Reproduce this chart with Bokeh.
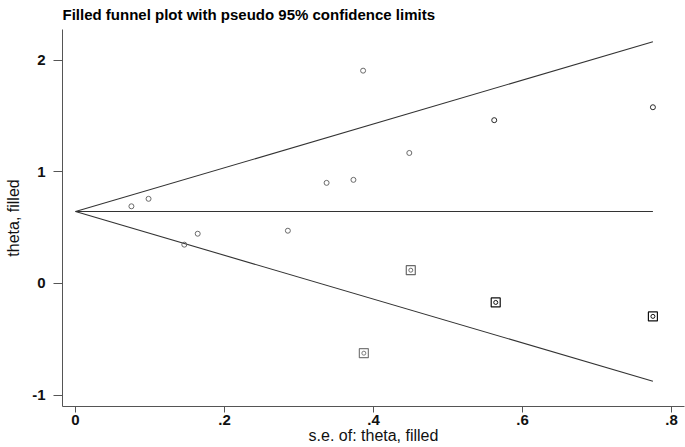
from bokeh.plotting import figure
from bokeh.models import Range1d, FixedTicker, ColumnDataSource
from bokeh.embed import file_html
from bokeh.resources import INLINE

# ---- data ----
# observed studies
study_se = [0.075, 0.098, 0.146, 0.164, 0.285, 0.337, 0.373, 0.386, 0.448, 0.562, 0.775]
study_theta = [0.692, 0.759, 0.348, 0.446, 0.473, 0.902, 0.929, 1.908, 1.170, 1.464, 1.580]
# filled (imputed) studies
filled_se = [0.387, 0.450, 0.564, 0.775]
filled_theta = [-0.625, 0.119, -0.170, -0.295]
# pooled estimate and pseudo 95% limits
funnel_se = [0.0, 0.775]
funnel_center = [0.645, 0.645]
funnel_upper = [0.645, 2.167]
funnel_lower = [0.645, -0.877]

x_ticks = [0, 0.2, 0.4, 0.6, 0.8]
x_tick_labels = ["0", ".2", ".4", ".6", ".8"]
y_ticks = [-1, 0, 1, 2]
y_tick_labels = ["-1", "0", "1", "2"]

title_text = "Filled funnel plot with pseudo 95% confidence limits"
x_label = "s.e. of: theta, filled"
y_label = "theta, filled"

# ---- styles ----
FONT = "Liberation Sans"
study_colors = ["#6a6a6a"] * 9 + ["#2a2a2a", "#2a2a2a"]
filled_colors = ["#7a7a7a", "#6a6a6a", "#111111", "#111111"]

p = figure(width=685, height=447, output_backend="svg", toolbar_location=None,
           x_range=Range1d(-0.0175, 0.8174), y_range=Range1d(-1.103, 2.277),
           min_border_left=62, min_border_right=1, min_border_top=27, min_border_bottom=41)

p.title.text = title_text
p.title.align = "left"
p.title.vertical_align = "top"
p.title.text_font = FONT
p.title.text_font_size = "15px"
p.title.text_font_style = "bold"
p.title.text_line_height = 0.6
p.title.text_color = "#000000"
p.title.offset = 0
p.title.standoff = 10

p.outline_line_color = None
p.xgrid.visible = False
p.ygrid.visible = False
p.background_fill_color = "white"
p.border_fill_color = "white"

# funnel lines
p.line(funnel_se, funnel_center, line_color="#333333", line_width=1.1)
p.line(funnel_se, funnel_upper, line_color="#333333", line_width=1.1)
p.line(funnel_se, funnel_lower, line_color="#333333", line_width=1.1)

# observed studies
src = ColumnDataSource(dict(x=study_se, y=study_theta, c=study_colors))
p.scatter("x", "y", source=src, marker="circle", size=5, fill_color=None,
          line_color="c", line_width=1)

# filled studies: square with a circle inside
fsrc = ColumnDataSource(dict(x=filled_se, y=filled_theta, c=filled_colors))
p.scatter("x", "y", source=fsrc, marker="square", size=9, fill_color=None,
          line_color="c", line_width=1.2)
p.scatter("x", "y", source=fsrc, marker="circle", size=4, fill_color=None,
          line_color="c", line_width=1)

# axes
for ax in (p.xaxis[0], p.yaxis[0]):
    ax.axis_line_color = "#555555"
    ax.major_tick_line_color = "#555555"
    ax.minor_tick_line_color = None
    ax.major_tick_in = 0
    ax.major_label_text_font = FONT
    ax.major_label_text_font_size = "15px"
    ax.major_label_text_font_style = "bold"
    ax.major_label_text_color = "#111111"
    ax.axis_label_text_font = FONT
    ax.axis_label_text_font_size = "16px"
    ax.axis_label_text_font_style = "normal"
    ax.axis_label_text_color = "#111111"

p.xaxis[0].ticker = FixedTicker(ticks=x_ticks)
p.xaxis[0].major_label_overrides = dict(zip(x_ticks, x_tick_labels))
p.xaxis[0].major_tick_out = 6
p.xaxis[0].major_label_standoff = 2
p.xaxis[0].axis_label = x_label
p.xaxis[0].axis_label_standoff = -1

p.yaxis[0].ticker = FixedTicker(ticks=y_ticks)
p.yaxis[0].major_label_overrides = dict(zip(y_ticks, y_tick_labels))
p.yaxis[0].major_tick_out = 9
p.yaxis[0].major_label_standoff = 8
p.yaxis[0].major_label_orientation = "horizontal"
p.yaxis[0].axis_label = y_label
p.yaxis[0].axis_label_standoff = 7

open("out.html", "w").write(file_html(p, INLINE))
